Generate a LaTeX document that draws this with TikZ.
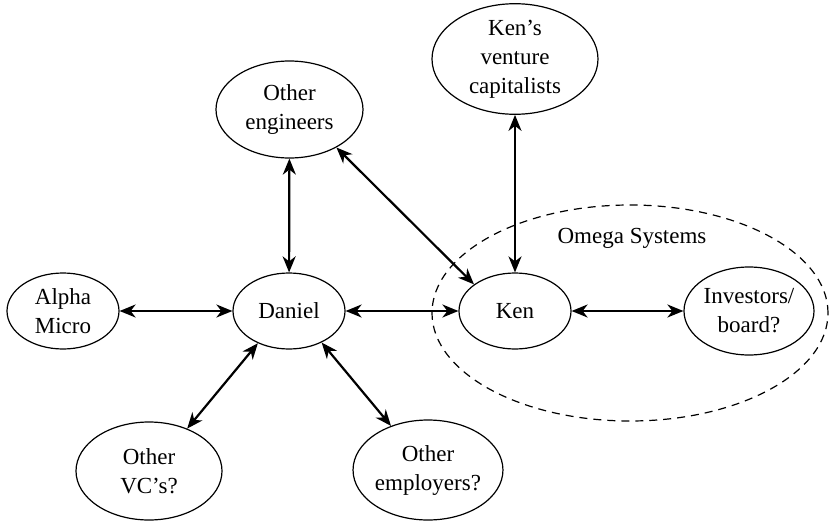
\documentclass[tikz,border=0pt]{standalone}
\usepackage{fontspec}
\setmainfont{Liberation Serif}
\usetikzlibrary{shapes.geometric,arrows.meta}
\begin{document}
\begin{tikzpicture}[x=1pt,y=-1pt,
  ell/.style={draw,ellipse,line width=1.2pt,inner sep=0pt,align=center,
    font=\fontsize{23}{29}\selectfont},
  link/.style={line width=2.2pt,{Stealth[length=16pt,width=13pt,inset=5pt]}-{Stealth[length=16pt,width=13pt,inset=5pt]}}]
\useasboundingbox (0,0) rectangle (830,522);
\node[draw,ellipse,line width=1.2pt,dash pattern=on 8pt off 6pt,minimum width=396pt,minimum height=216pt] (omega) at (630,313) {};
\node[font=\fontsize{23}{29}\selectfont] (omegalbl) at (632,238) {Omega Systems};
\node[ell,minimum width=166pt,minimum height=108pt] (kvc) at (515,59) {Ken’s\\venture\\capitalists};
\node[ell,minimum width=147pt,minimum height=97pt] (eng) at (289.5,109.5) {Other\\engineers};
\node[ell,minimum width=112pt,minimum height=76pt] (alpha) at (63,311) {Alpha\\Micro};
\node[ell,minimum width=112pt,minimum height=76pt] (dan) at (289,311) {Daniel};
\node[ell,minimum width=112pt,minimum height=76pt] (ken) at (515,311) {Ken};
\node[ell,minimum width=130pt,minimum height=88pt] (inv) at (749,311) {Investors/\\board?};
\node[ell,minimum width=146pt,minimum height=98pt] (ovc) at (149,471) {Other\\VC’s?};
\node[ell,minimum width=146pt,minimum height=100pt] (emp) at (428,470) {Other\\employers?};
\draw[link] (alpha) -- (dan);
\draw[link] (dan) -- (ken);
\draw[link] (ken) -- (inv);
\draw[link] (eng) -- (dan);
\draw[link] (kvc.south -| ken.north) -- (ken.north);
\draw[link] (eng.-39) -- (ken.147);
\draw[link] (dan.226) -- (ovc.48);
\draw[link] (dan.-44) -- (emp.130);
\end{tikzpicture}
\end{document}
